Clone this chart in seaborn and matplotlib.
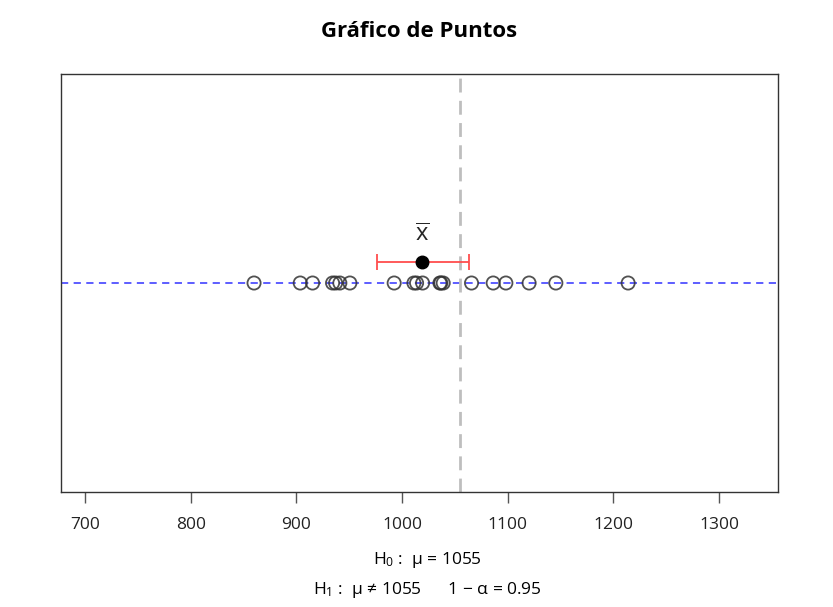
import numpy as np
import pandas as pd
import seaborn as sns
import matplotlib.pyplot as plt

# data
values = [860, 903.7, 915.4, 934.3, 937.2, 941.2, 950.7, 992.6, 1011.3, 1013.8,
          1019.5, 1035.9, 1036.8, 1039, 1065.8, 1086.3, 1098.3, 1120.3, 1145.6, 1214]
mu0 = 1055
mean_x = 1019
ci_low, ci_high = 976, 1063
conf = 0.95
xticks = [700, 800, 900, 1000, 1100, 1200, 1300]

sns.set_theme(style="white")
plt.rcParams['font.family'] = ['Open Sans', 'DejaVu Sans']
plt.rcParams['mathtext.fontset'] = 'custom'
plt.rcParams['mathtext.rm'] = 'Open Sans'
plt.rcParams['mathtext.it'] = 'Open Sans'

df = pd.DataFrame({'valor': values, 'y': np.zeros(len(values))})

fig = plt.figure(figsize=(8.33, 6.07), dpi=100)
ax = fig.add_axes([0.0732, 0.1895, 0.8605, 0.6885])

# reference line and hypothesised mean
ax.axhline(0, color='#5050ff', lw=1.3, ls=(0, (4, 3)), zorder=1)
ax.axvline(mu0, color='#bebebe', lw=2, ls=(0, (5, 3)), zorder=1)

# observations
sns.scatterplot(data=df, x='valor', y='y', ax=ax, s=90, facecolor='none',
                edgecolor='#333333', linewidth=1.3, alpha=0.85, zorder=3)

# confidence interval and sample mean
ax.errorbar(mean_x, 0.1, xerr=[[mean_x - ci_low], [ci_high - mean_x]], fmt='none',
            ecolor='#ff4d4d', elinewidth=1.3, capsize=6, capthick=1.3, zorder=2)
ax.plot(mean_x, 0.1, 'o', color='black', ms=9, zorder=4)
ax.text(mean_x, 0.23, r'$\overline{\mathrm{x}}$', ha='center', va='center', fontsize=17)

ax.set_xlim(677.3, 1355.6)
ax.set_ylim(-1, 1)
ax.set_xticks(xticks)
ax.set_yticks([])
ax.set_xlabel('')
ax.set_ylabel('')
ax.tick_params(axis='x', direction='out', length=8, width=1, color='#555555',
               labelsize=12.5, labelcolor='#222222', pad=10, bottom=True)
for sp in ax.spines.values():
    sp.set_color('#333333')
    sp.set_linewidth(1)

ax.set_title('Gráfico de Puntos', fontsize=16, fontweight='bold', color='black', pad=27)

fig.text(0.513, 0.077, r'H$_0$ :  μ = 1055', ha='center', va='center', fontsize=12.5,
         color='black')
fig.text(0.513, 0.028, r'H$_1$ :  μ ≠ 1055      1 − α = ' + str(conf), ha='center',
         va='center', fontsize=12.5, color='black')

plt.savefig('out.png', dpi=100)
